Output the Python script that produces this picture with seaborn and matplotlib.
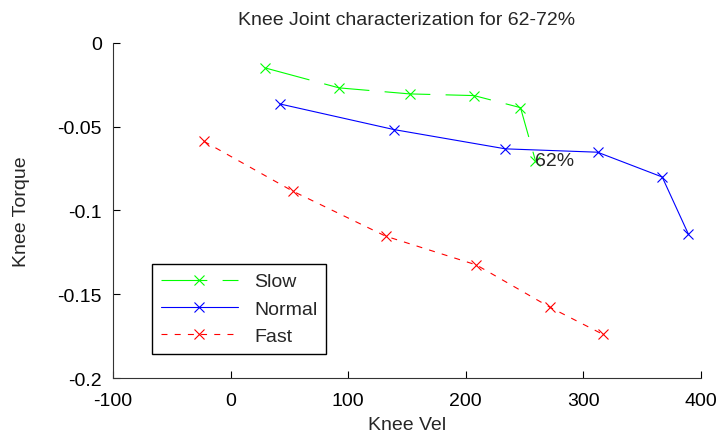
import matplotlib
matplotlib.use("Agg")
import matplotlib.pyplot as plt
import seaborn as sns
import pandas as pd

# Data
slow_x = [29.4, 92.2, 152.3, 207.0, 246.5, 259.2]
slow_y = [-0.0149, -0.0268, -0.0304, -0.0314, -0.0386, -0.0702]
normal_x = [41.9, 139.0, 233.7, 312.0, 367.0, 389.2]
normal_y = [-0.0364, -0.0517, -0.0632, -0.0652, -0.0800, -0.1140]
fast_x = [-22.7, 53.0, 131.8, 209.0, 271.4, 316.8]
fast_y = [-0.0587, -0.0885, -0.1153, -0.1325, -0.1577, -0.1740]

series_names = ["Slow", "Normal", "Fast"]
x_ticks = [-100, 0, 100, 200, 300, 400]
y_ticks = [0, -0.05, -0.1, -0.15, -0.2]
y_tick_labels = ["0", "-0.05", "-0.1", "-0.15", "-0.2"]
annot_text = "62%"

sns.set_style("white")
plt.rcParams["font.family"] = ["Liberation Sans", "DejaVu Sans"]
plt.rcParams["lines.scale_dashes"] = False
plt.rcParams["axes.unicode_minus"] = False

fs = 14
fig = plt.figure(figsize=(7.17, 4.35), dpi=100)
ax = fig.add_axes([0.1576, 0.1287, 0.8201, 0.7702])

colors = {"Slow": (0, 1, 0), "Normal": (0, 0, 1), "Fast": (1, 0, 0)}
dashes = {"Slow": (33, 11), "Normal": None, "Fast": (4.3, 5.2)}
data = {"Slow": (slow_x, slow_y), "Normal": (normal_x, normal_y), "Fast": (fast_x, fast_y)}

handles = []
for name in series_names:
    xs, ys = data[name]
    df = pd.DataFrame({"vel": xs, "torque": ys})
    n_before = len(ax.lines)
    sns.lineplot(data=df, x="vel", y="torque", ax=ax, color=colors[name],
                 marker="x", markersize=6.5, markeredgewidth=0.8,
                 markeredgecolor=colors[name], linewidth=0.8,
                 sort=False, estimator=None, label=name, legend=False)
    line = ax.lines[n_before]
    if dashes[name] is not None:
        line.set_dashes(dashes[name])
    handles.append(line)

ax.text(slow_x[-1], slow_y[-1], annot_text, ha="left", va="center", fontsize=fs)

ax.set_xlim(-100, 400)
ax.set_ylim(-0.2, 0)
ax.set_xticks(x_ticks)
ax.set_yticks(y_ticks)
ax.set_yticklabels(y_tick_labels)
ax.tick_params(direction="in", length=5, width=0.8, labelsize=fs, colors="black",
               bottom=True, left=True)
ax.tick_params(axis="x", pad=10)
ax.tick_params(axis="y", pad=8)
for s in ["top", "right"]:
    ax.spines[s].set_visible(False)
for s in ["left", "bottom"]:
    ax.spines[s].set_color("#333333")
    ax.spines[s].set_linewidth(0.8)

ax.set_xlabel("Knee Vel", fontsize=fs, labelpad=5)
ax.set_ylabel("Knee Torque", fontsize=fs, labelpad=20)
ax.set_title("Knee Joint characterization for 62-72%", fontsize=fs, pad=14)

leg = ax.legend(handles=handles, labels=series_names, loc="lower left",
                bbox_to_anchor=(0.066, 0.072), borderaxespad=0, fontsize=fs,
                handlelength=4.0, handletextpad=0.8, labelspacing=0.5,
                borderpad=0.45, fancybox=False, framealpha=1, numpoints=1)
leg.get_frame().set_edgecolor("black")
leg.get_frame().set_linewidth(1.0)

fig.savefig("out.png", dpi=100)
